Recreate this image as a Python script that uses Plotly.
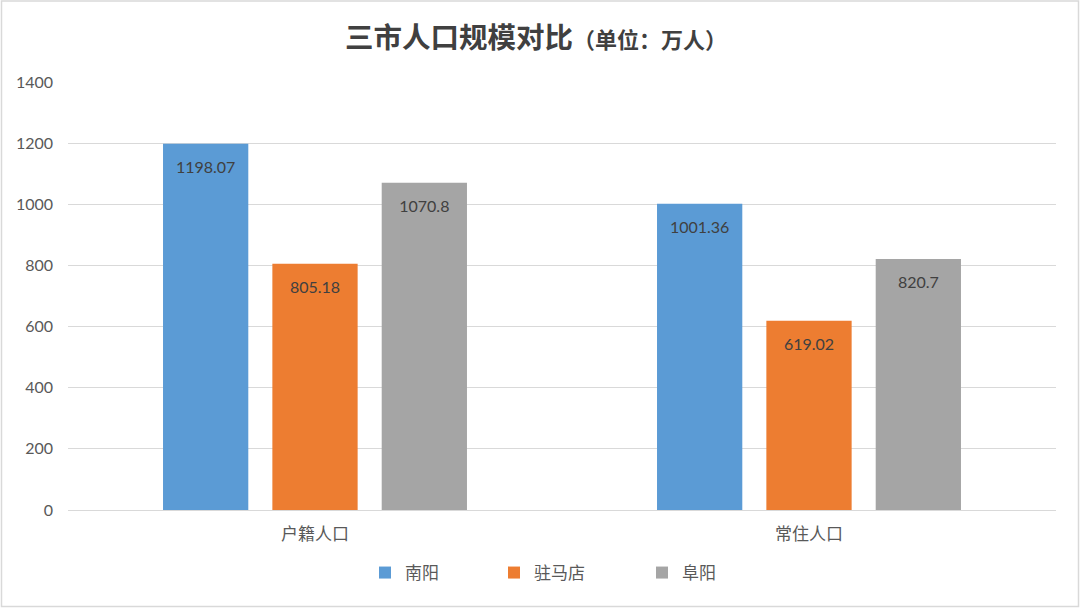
import plotly.graph_objects as go

categories = ["户籍人口", "常住人口"]
series_names = ["南阳", "驻马店", "阜阳"]
nanyang = [1198.07, 1001.36]
zhumadian = [805.18, 619.02]
fuyang = [1070.8, 820.7]
colors = ["#5b9bd5", "#ed7d31", "#a5a5a5"]
y_ticks = [0, 200, 400, 600, 800, 1000, 1200, 1400]

W, H = 1080, 608
ml, mr, mt, mb = 68, 24, 82, 98
pw, ph = W - ml - mr, H - mt - mb

NUM_FONT = "Lato, 'Noto Sans CJK SC', sans-serif"
CJK_FONT = "'Noto Sans CJK SC', sans-serif"

legend_ids = ["legend", "legend2", "legend3"]
legend_symbol_px = [385, 514, 662]  # legend entry symbol centres (layout)

fig = go.Figure()
for name, vals, col, lg in zip(series_names, [nanyang, zhumadian, fuyang], colors, legend_ids):
    fig.add_trace(go.Bar(
        x=categories, y=vals, name=name, legend=lg,
        marker=dict(color=col, line=dict(width=0)),
        text=[f"{v:g}" for v in vals],
        textposition="inside", insidetextanchor="end",
        textfont=dict(family=NUM_FONT, size=11.5, color="#404040"),
        texttemplate=" <br><span style='font-size:16px'>%{text}</span>",
        textangle=0,
        hoverinfo="skip",
    ))

legend_common = dict(
    orientation="h", xref="container", xanchor="left",
    yref="container", y=1 - 573 / H, yanchor="middle",
    font=dict(family=CJK_FONT, size=17, color="#595959"),
    itemclick=False, itemdoubleclick=False, bgcolor="rgba(0,0,0,0)",
)
legends = {lg: dict(legend_common, x=(px - 20) / W) for lg, px in zip(legend_ids, legend_symbol_px)}

fig.update_layout(
    width=W, height=H,
    margin=dict(l=ml, r=mr, t=mt, b=mb, autoexpand=False),
    paper_bgcolor="white", plot_bgcolor="white",
    barmode="group", bargap=0.336, bargroupgap=0.22,
    title=dict(
        text="<b>三市人口规模对比</b><span style='font-size:22px'><b>（单位：万人）</b></span>",
        x=536 / W, xref="container", xanchor="center",
        y=1 - 38 / H, yref="container", yanchor="middle",
        font=dict(family=CJK_FONT, size=28.5, color="#404040"),
    ),
    xaxis=dict(
        showgrid=False, showline=True, linecolor="#d9d9d9", linewidth=1,
        ticks="", tickfont=dict(family=CJK_FONT, size=17, color="#595959"),
        ticklabelstandoff=9, automargin=False,
    ),
    yaxis=dict(
        range=[0, 1400], tickvals=y_ticks, ticktext=[str(t) for t in y_ticks],
        showgrid=True, gridcolor="#d9d9d9", gridwidth=1,
        zeroline=True, zerolinecolor="#d9d9d9", zerolinewidth=1,
        showline=False, ticks="",
        tickfont=dict(family=NUM_FONT, size=16, color="#595959"),
        ticklabelstandoff=14, automargin=False,
    ),
    showlegend=True,
    **legends,
)

# chart outer border
fig.add_shape(
    type="rect", xref="paper", yref="paper",
    x0=(1.5 - ml) / pw, x1=(W - 1.5 - ml) / pw,
    y0=(ph + mt - (H - 1.5)) / ph, y1=(ph + mt - 1.0) / ph,
    line=dict(color="#d9d9d9", width=1.5), fillcolor="rgba(0,0,0,0)", layer="below",
)

fig.write_html("out.html", config={"displayModeBar": False},
               post_script="document.body.style.margin='0';")
